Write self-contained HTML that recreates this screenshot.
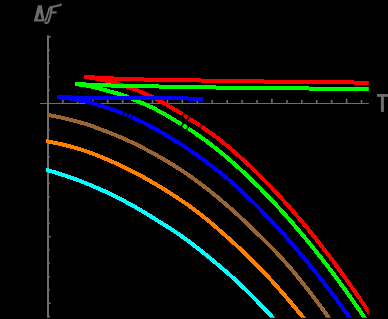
<!DOCTYPE html><html><head><meta charset="utf-8"><style>html,body{margin:0;padding:0;background:#000;}svg{display:block}</style></head><body><svg width="388" height="319" viewBox="0 0 388 319">
<defs><clipPath id="c"><rect x="0" y="0" width="368.8" height="317.8"/></clipPath></defs>
<rect width="388" height="319" fill="#000"/>
<g stroke="#6e6e6e" fill="none">
<line x1="48" y1="35.3" x2="48" y2="317.8" stroke-width="2"/>
<line x1="40" y1="103.5" x2="368.8" y2="103.5" stroke-width="1.2"/>
<line x1="62.9" y1="103.5" x2="62.9" y2="100.0" stroke-width="1.6"/>
<line x1="77.9" y1="103.5" x2="77.9" y2="100.0" stroke-width="1.6"/>
<line x1="92.8" y1="103.5" x2="92.8" y2="100.0" stroke-width="1.6"/>
<line x1="107.7" y1="103.5" x2="107.7" y2="100.0" stroke-width="1.6"/>
<line x1="122.7" y1="103.5" x2="122.7" y2="98.7" stroke-width="1.6"/>
<line x1="137.6" y1="103.5" x2="137.6" y2="100.0" stroke-width="1.6"/>
<line x1="152.5" y1="103.5" x2="152.5" y2="100.0" stroke-width="1.6"/>
<line x1="167.4" y1="103.5" x2="167.4" y2="100.0" stroke-width="1.6"/>
<line x1="182.4" y1="103.5" x2="182.4" y2="100.0" stroke-width="1.6"/>
<line x1="197.3" y1="103.5" x2="197.3" y2="98.7" stroke-width="1.6"/>
<line x1="212.2" y1="103.5" x2="212.2" y2="100.0" stroke-width="1.6"/>
<line x1="227.2" y1="103.5" x2="227.2" y2="100.0" stroke-width="1.6"/>
<line x1="242.1" y1="103.5" x2="242.1" y2="100.0" stroke-width="1.6"/>
<line x1="257.0" y1="103.5" x2="257.0" y2="100.0" stroke-width="1.6"/>
<line x1="271.9" y1="103.5" x2="271.9" y2="98.7" stroke-width="1.6"/>
<line x1="286.9" y1="103.5" x2="286.9" y2="100.0" stroke-width="1.6"/>
<line x1="301.8" y1="103.5" x2="301.8" y2="100.0" stroke-width="1.6"/>
<line x1="316.7" y1="103.5" x2="316.7" y2="100.0" stroke-width="1.6"/>
<line x1="331.7" y1="103.5" x2="331.7" y2="100.0" stroke-width="1.6"/>
<line x1="346.6" y1="103.5" x2="346.6" y2="98.7" stroke-width="1.6"/>
<line x1="361.5" y1="103.5" x2="361.5" y2="100.0" stroke-width="1.6"/>
<line x1="48" y1="316.6" x2="49.9" y2="316.6" stroke-width="1.5"/>
<line x1="48" y1="303.3" x2="50.8" y2="303.3" stroke-width="1.5"/>
<line x1="48" y1="290.0" x2="49.9" y2="290.0" stroke-width="1.5"/>
<line x1="48" y1="276.7" x2="49.9" y2="276.7" stroke-width="1.5"/>
<line x1="48" y1="263.3" x2="49.9" y2="263.3" stroke-width="1.5"/>
<line x1="48" y1="250.0" x2="49.9" y2="250.0" stroke-width="1.5"/>
<line x1="48" y1="236.7" x2="50.8" y2="236.7" stroke-width="1.5"/>
<line x1="48" y1="223.4" x2="49.9" y2="223.4" stroke-width="1.5"/>
<line x1="48" y1="210.1" x2="49.9" y2="210.1" stroke-width="1.5"/>
<line x1="48" y1="196.7" x2="49.9" y2="196.7" stroke-width="1.5"/>
<line x1="48" y1="183.4" x2="49.9" y2="183.4" stroke-width="1.5"/>
<line x1="48" y1="170.1" x2="50.8" y2="170.1" stroke-width="1.5"/>
<line x1="48" y1="156.8" x2="49.9" y2="156.8" stroke-width="1.5"/>
<line x1="48" y1="143.5" x2="49.9" y2="143.5" stroke-width="1.5"/>
<line x1="48" y1="130.1" x2="49.9" y2="130.1" stroke-width="1.5"/>
<line x1="48" y1="116.8" x2="49.9" y2="116.8" stroke-width="1.5"/>
<line x1="48" y1="90.2" x2="49.9" y2="90.2" stroke-width="1.5"/>
<line x1="48" y1="76.9" x2="49.9" y2="76.9" stroke-width="1.5"/>
<line x1="48" y1="63.5" x2="49.9" y2="63.5" stroke-width="1.5"/>
<line x1="48" y1="50.2" x2="49.9" y2="50.2" stroke-width="1.5"/>
<line x1="48" y1="36.9" x2="50.8" y2="36.9" stroke-width="1.5"/>
</g>
<g clip-path="url(#c)" fill="none" stroke-width="4.0" shape-rendering="crispEdges">
<path d="M84.0,76.9 L87.0,77.1 L90.0,77.2 L93.0,77.4 L96.0,77.6 L99.0,77.7 L102.0,77.9 L105.0,78.0 L108.0,78.2 L111.0,78.3 L114.0,78.5 L117.0,78.6 L120.0,78.8 L123.0,78.9 L126.0,79.0 L129.0,79.1 L132.0,79.2 L135.0,79.3 L138.0,79.4 L141.0,79.4 L144.0,79.5 L147.0,79.6 L150.0,79.6 L153.0,79.7 L156.0,79.7 L159.0,79.8 L162.0,79.8 L165.0,79.9 L168.0,79.9 L171.0,80.0 L174.0,80.0 L177.0,80.1 L180.0,80.1 L183.0,80.2 L186.0,80.2 L189.0,80.3 L192.0,80.3 L195.0,80.4 L198.0,80.4 L201.0,80.5 L204.0,80.5 L207.0,80.6 L210.0,80.6 L213.0,80.7 L216.0,80.7 L219.0,80.8 L222.0,80.8 L225.0,80.9 L228.0,80.9 L231.0,81.0 L234.0,81.0 L237.0,81.1 L240.0,81.1 L243.0,81.2 L246.0,81.2 L249.0,81.2 L252.0,81.3 L255.0,81.3 L258.0,81.4 L261.0,81.4 L264.0,81.5 L267.0,81.5 L270.0,81.5 L273.0,81.6 L276.0,81.6 L279.0,81.7 L282.0,81.7 L285.0,81.7 L288.0,81.8 L291.0,81.8 L294.0,81.8 L297.0,81.9 L300.0,81.9 L303.0,81.9 L306.0,82.0 L309.0,82.0 L312.0,82.0 L315.0,82.1 L318.0,82.1 L321.0,82.1 L324.0,82.2 L327.0,82.2 L330.0,82.2 L333.0,82.3 L336.0,82.3 L339.0,82.3 L342.0,82.4 L345.0,82.4 L348.0,82.4 L351.0,82.4 L354.0,82.5 L357.0,82.5 L360.0,82.5 L363.0,82.5 L366.0,82.6 L369.0,82.6" stroke="#ff0000"/>
<path d="M84.0,76.9 L85.5,77.1 L87.0,77.3 L88.5,77.4 L90.0,77.7 L91.5,77.9 L93.0,78.1 L94.5,78.4 L96.0,78.6 L97.5,78.9 L99.0,79.2 L100.5,79.5 L102.0,79.8 L103.5,80.1 L105.0,80.5 L106.5,80.8 L108.0,81.2 L109.5,81.6 L111.0,81.9 L112.5,82.3 L114.0,82.8 L115.5,83.2 L117.0,83.6 L118.5,84.0 L120.0,84.5 L121.5,85.0 L123.0,85.4 L124.5,85.9 L126.0,86.4 L127.5,86.9 L129.0,87.5 L130.5,88.0 L132.0,88.5 L133.5,89.1 L135.0,89.7 L136.5,90.2 L138.0,90.8 L139.5,91.4 L141.0,92.0 L142.5,92.7 L144.0,93.3 L145.5,94.0 L147.0,94.6 L148.5,95.3 L150.0,96.0 L151.5,96.7 L153.0,97.4 L154.5,98.2 L156.0,99.0 L157.5,99.8 L159.0,100.6 L160.5,101.4 L162.0,102.2 L163.5,103.0 L165.0,103.8 L166.5,104.7 L168.0,105.5 L169.5,106.4 L171.0,107.3 L172.5,108.2 L174.0,109.1 L175.5,110.0 L177.0,110.9 L178.5,111.8 L180.0,112.8 L181.5,113.7 L183.0,114.6 L184.5,115.6 L186.0,116.6 L187.5,117.5 L189.0,118.5 L190.5,119.5 L192.0,120.5 L193.5,121.4 L195.0,122.4 L196.5,123.4 L198.0,124.4 L199.5,125.4 L201.0,126.4 L202.5,127.4 L204.0,128.5 L205.5,129.5 L207.0,130.5 L208.5,131.6 L210.0,132.6 L211.5,133.7 L213.0,134.8 L214.5,135.9 L216.0,137.0 L217.5,138.1 L219.0,139.2 L220.5,140.4 L222.0,141.6 L223.5,142.8 L225.0,144.1 L226.5,145.3 L228.0,146.6 L229.5,147.8 L231.0,149.1 L232.5,150.4 L234.0,151.7 L235.5,153.0 L237.0,154.3 L238.5,155.6 L240.0,157.0 L241.5,158.3 L243.0,159.7 L244.5,161.0 L246.0,162.4 L247.5,163.8 L249.0,165.2 L250.5,166.6 L252.0,168.1 L253.5,169.5 L255.0,171.0 L256.5,172.4 L258.0,173.9 L259.5,175.4 L261.0,176.9 L262.5,178.4 L264.0,179.9 L265.5,181.4 L267.0,182.9 L268.5,184.5 L270.0,186.0 L271.5,187.6 L273.0,189.2 L274.5,190.8 L276.0,192.4 L277.5,194.0 L279.0,195.6 L280.5,197.2 L282.0,198.9 L283.5,200.5 L285.0,202.2 L286.5,203.9 L288.0,205.5 L289.5,207.2 L291.0,208.9 L292.5,210.7 L294.0,212.4 L295.5,214.1 L297.0,215.9 L298.5,217.6 L300.0,219.4 L301.5,221.2 L303.0,223.0 L304.5,224.8 L306.0,226.6 L307.5,228.4 L309.0,230.3 L310.5,232.1 L312.0,234.0 L313.5,235.8 L315.0,237.7 L316.5,239.6 L318.0,241.5 L319.5,243.4 L321.0,245.3 L322.5,247.3 L324.0,249.2 L325.5,251.2 L327.0,253.1 L328.5,255.1 L330.0,257.1 L331.5,259.1 L333.0,261.1 L334.5,263.1 L336.0,265.2 L337.5,267.2 L339.0,269.3 L340.5,271.3 L342.0,273.4 L343.5,275.5 L345.0,277.6 L346.5,279.7 L348.0,281.8 L349.5,283.9 L351.0,286.0 L352.5,288.2 L354.0,290.4 L355.5,292.5 L357.0,294.7 L358.5,296.9 L360.0,299.1 L361.5,301.3 L363.0,303.5 L364.5,305.8 L366.0,308.0 L367.5,310.3 L369.0,312.5 L370.5,314.8 L372.0,317.1 L373.5,319.4 L375.0,321.7 L376.5,324.0 L378.0,326.3 L379.5,328.7" stroke="#ff0000"/>
<path d="M74.9,83.9 L77.9,84.1 L80.9,84.3 L83.9,84.4 L86.9,84.6 L89.9,84.7 L92.9,84.9 L95.9,85.0 L98.9,85.1 L101.9,85.2 L104.9,85.3 L107.9,85.4 L110.9,85.5 L113.9,85.5 L116.9,85.6 L119.9,85.6 L122.9,85.7 L125.9,85.7 L128.9,85.8 L131.9,85.9 L134.9,85.9 L137.9,86.0 L140.9,86.1 L143.9,86.1 L146.9,86.2 L149.9,86.3 L152.9,86.3 L155.9,86.4 L158.9,86.5 L161.9,86.5 L164.9,86.6 L167.9,86.7 L170.9,86.8 L173.9,86.8 L176.9,86.9 L179.9,86.9 L182.9,87.0 L185.9,87.0 L188.9,87.1 L191.9,87.1 L194.9,87.2 L197.9,87.2 L200.9,87.3 L203.9,87.3 L206.9,87.3 L209.9,87.4 L212.9,87.4 L215.9,87.5 L218.9,87.5 L221.9,87.5 L224.9,87.6 L227.9,87.6 L230.9,87.7 L233.9,87.7 L236.9,87.7 L239.9,87.8 L242.9,87.8 L245.9,87.8 L248.9,87.9 L251.9,87.9 L254.9,87.9 L257.9,88.0 L260.9,88.0 L263.9,88.0 L266.9,88.1 L269.9,88.1 L272.9,88.1 L275.9,88.2 L278.9,88.2 L281.9,88.2 L284.9,88.2 L287.9,88.3 L290.9,88.3 L293.9,88.3 L296.9,88.4 L299.9,88.4 L302.9,88.4 L305.9,88.4 L308.9,88.5 L311.9,88.5 L314.9,88.5 L317.9,88.5 L320.9,88.6 L323.9,88.6 L326.9,88.6 L329.9,88.6 L332.9,88.7 L335.9,88.7 L338.9,88.7 L341.9,88.7 L344.9,88.7 L347.9,88.8 L350.9,88.8 L353.9,88.8 L356.9,88.8 L359.9,88.8 L362.9,88.9 L365.9,88.9 L368.9,88.9 L369.0,88.9" stroke="#00ff00"/>
<path d="M74.9,83.9 L76.4,84.1 L77.9,84.3 L79.4,84.5 L80.9,84.7 L82.4,84.9 L83.9,85.2 L85.4,85.4 L86.9,85.7 L88.4,86.0 L89.9,86.3 L91.4,86.6 L92.9,86.9 L94.4,87.3 L95.9,87.6 L97.4,88.0 L98.9,88.4 L100.4,88.8 L101.9,89.2 L103.4,89.6 L104.9,90.0 L106.4,90.5 L107.9,90.9 L109.4,91.3 L110.9,91.7 L112.4,92.1 L113.9,92.6 L115.4,93.0 L116.9,93.4 L118.4,93.9 L119.9,94.4 L121.4,94.8 L122.9,95.3 L124.4,95.8 L125.9,96.4 L127.4,96.9 L128.9,97.5 L130.4,98.1 L131.9,98.8 L133.4,99.4 L134.9,100.0 L136.4,100.7 L137.9,101.3 L139.4,101.9 L140.9,102.6 L142.4,103.2 L143.9,103.8 L145.4,104.5 L146.9,105.2 L148.4,105.8 L149.9,106.5 L151.4,107.2 L152.9,107.9 L154.4,108.6 L155.9,109.4 L157.4,110.2 L158.9,111.0 L160.4,111.8 L161.9,112.7 L163.4,113.5 L164.9,114.4 L166.4,115.2 L167.9,116.1 L169.4,117.0 L170.9,117.9 L172.4,118.8 L173.9,119.7 L175.4,120.6 L176.9,121.5 L178.4,122.4 L179.9,123.3 L181.4,124.2 L182.9,125.2 L184.4,126.1 L185.9,127.1 L187.4,128.0 L188.9,129.0 L190.4,130.0 L191.9,131.0 L193.4,132.0 L194.9,133.0 L196.4,134.0 L197.9,135.1 L199.4,136.1 L200.9,137.2 L202.4,138.3 L203.9,139.3 L205.4,140.4 L206.9,141.5 L208.4,142.7 L209.9,143.8 L211.4,144.9 L212.9,146.1 L214.4,147.3 L215.9,148.5 L217.4,149.7 L218.9,150.9 L220.4,152.1 L221.9,153.3 L223.4,154.6 L224.9,155.8 L226.4,157.1 L227.9,158.4 L229.4,159.7 L230.9,161.0 L232.4,162.3 L233.9,163.6 L235.4,164.9 L236.9,166.2 L238.4,167.6 L239.9,169.0 L241.4,170.3 L242.9,171.7 L244.4,173.1 L245.9,174.5 L247.4,175.9 L248.9,177.3 L250.4,178.7 L251.9,180.2 L253.4,181.6 L254.9,183.1 L256.4,184.6 L257.9,186.1 L259.4,187.5 L260.9,189.0 L262.4,190.6 L263.9,192.1 L265.4,193.6 L266.9,195.2 L268.4,196.7 L269.9,198.3 L271.4,199.9 L272.9,201.4 L274.4,203.0 L275.9,204.6 L277.4,206.3 L278.9,207.9 L280.4,209.5 L281.9,211.2 L283.4,212.8 L284.9,214.5 L286.4,216.2 L287.9,217.9 L289.4,219.6 L290.9,221.3 L292.4,223.0 L293.9,224.7 L295.4,226.5 L296.9,228.2 L298.4,230.0 L299.9,231.7 L301.4,233.5 L302.9,235.3 L304.4,237.1 L305.9,238.9 L307.4,240.7 L308.9,242.6 L310.4,244.4 L311.9,246.3 L313.4,248.1 L314.9,250.0 L316.4,251.9 L317.9,253.8 L319.4,255.7 L320.9,257.6 L322.4,259.5 L323.9,261.4 L325.4,263.4 L326.9,265.3 L328.4,267.3 L329.9,269.3 L331.4,271.3 L332.9,273.3 L334.4,275.3 L335.9,277.3 L337.4,279.3 L338.9,281.3 L340.4,283.4 L341.9,285.4 L343.4,287.5 L344.9,289.6 L346.4,291.7 L347.9,293.8 L349.4,295.9 L350.9,298.0 L352.4,300.1 L353.9,302.3 L355.4,304.4 L356.9,306.6 L358.4,308.7 L359.9,310.9 L361.4,313.1 L362.9,315.3 L364.4,317.5 L365.9,319.7 L367.4,322.0 L368.9,324.2 L370.4,326.4 L371.9,328.7 L373.4,331.0 L374.9,333.2" stroke="#00ff00"/>
<path d="M57.0,97.0 L60.0,97.1 L63.0,97.2 L66.0,97.3 L69.0,97.4 L72.0,97.5 L75.0,97.6 L78.0,97.8 L81.0,97.8 L84.0,97.8 L87.0,97.8 L90.0,97.9 L93.0,97.9 L96.0,97.9 L99.0,97.9 L102.0,97.9 L105.0,97.9 L108.0,97.9 L111.0,97.9 L114.0,97.9 L117.0,97.9 L120.0,97.9 L123.0,97.9 L126.0,97.9 L129.0,97.9 L132.0,98.0 L135.0,98.0 L138.0,98.0 L141.0,98.0 L144.0,98.0 L147.0,98.0 L150.0,98.0 L153.0,98.0 L156.0,98.0 L159.0,98.0 L162.0,98.0 L165.0,98.1 L168.0,98.1 L171.0,98.1 L174.0,98.1 L177.0,98.1 L180.0,98.2 L183.0,98.2 L186.0,98.4 L189.0,98.6 L192.0,98.6 L195.0,98.7 L198.0,98.8 L201.0,98.8 L203.0,98.8" stroke="#0000ff"/>
<path d="M57.0,97.1 L58.5,97.2 L60.0,97.4 L61.5,97.5 L63.0,97.7 L64.5,97.8 L66.0,98.0 L67.5,98.2 L69.0,98.4 L70.5,98.7 L72.0,98.9 L73.5,99.1 L75.0,99.4 L76.5,99.7 L78.0,100.0 L79.5,100.3 L81.0,100.6 L82.5,100.9 L84.0,101.2 L85.5,101.5 L87.0,101.9 L88.5,102.3 L90.0,102.6 L91.5,103.0 L93.0,103.4 L94.5,103.8 L96.0,104.2 L97.5,104.6 L99.0,105.1 L100.5,105.5 L102.0,106.0 L103.5,106.4 L105.0,106.9 L106.5,107.4 L108.0,107.9 L109.5,108.4 L111.0,108.9 L112.5,109.5 L114.0,110.0 L115.5,110.6 L117.0,111.1 L118.5,111.7 L120.0,112.3 L121.5,112.9 L123.0,113.5 L124.5,114.1 L126.0,114.7 L127.5,115.3 L129.0,116.0 L130.5,116.6 L132.0,117.3 L133.5,118.0 L135.0,118.7 L136.5,119.4 L138.0,120.1 L139.5,120.8 L141.0,121.5 L142.5,122.3 L144.0,123.0 L145.5,123.8 L147.0,124.5 L148.5,125.3 L150.0,126.1 L151.5,126.9 L153.0,127.7 L154.5,128.5 L156.0,129.4 L157.5,130.2 L159.0,131.0 L160.5,131.9 L162.0,132.7 L163.5,133.6 L165.0,134.5 L166.5,135.3 L168.0,136.2 L169.5,137.1 L171.0,138.0 L172.5,138.9 L174.0,139.9 L175.5,140.8 L177.0,141.7 L178.5,142.7 L180.0,143.7 L181.5,144.6 L183.0,145.6 L184.5,146.6 L186.0,147.6 L187.5,148.6 L189.0,149.7 L190.5,150.7 L192.0,151.7 L193.5,152.8 L195.0,153.9 L196.5,154.9 L198.0,156.0 L199.5,157.1 L201.0,158.1 L202.5,159.2 L204.0,160.3 L205.5,161.4 L207.0,162.6 L208.5,163.7 L210.0,164.8 L211.5,166.0 L213.0,167.1 L214.5,168.3 L216.0,169.4 L217.5,170.6 L219.0,171.8 L220.5,173.0 L222.0,174.2 L223.5,175.4 L225.0,176.7 L226.5,177.9 L228.0,179.1 L229.5,180.4 L231.0,181.7 L232.5,183.0 L234.0,184.3 L235.5,185.6 L237.0,187.0 L238.5,188.4 L240.0,189.8 L241.5,191.1 L243.0,192.6 L244.5,194.0 L246.0,195.4 L247.5,196.8 L249.0,198.3 L250.5,199.7 L252.0,201.2 L253.5,202.6 L255.0,204.1 L256.5,205.6 L258.0,207.1 L259.5,208.6 L261.0,210.2 L262.5,211.7 L264.0,213.2 L265.5,214.8 L267.0,216.3 L268.5,217.9 L270.0,219.5 L271.5,221.1 L273.0,222.7 L274.5,224.3 L276.0,225.9 L277.5,227.5 L279.0,229.2 L280.5,230.8 L282.0,232.5 L283.5,234.2 L285.0,235.8 L286.5,237.5 L288.0,239.2 L289.5,240.9 L291.0,242.7 L292.5,244.4 L294.0,246.1 L295.5,247.9 L297.0,249.6 L298.5,251.4 L300.0,253.2 L301.5,255.0 L303.0,256.8 L304.5,258.6 L306.0,260.4 L307.5,262.3 L309.0,264.1 L310.5,265.9 L312.0,267.8 L313.5,269.7 L315.0,271.6 L316.5,273.4 L318.0,275.3 L319.5,277.2 L321.0,279.2 L322.5,281.1 L324.0,283.0 L325.5,285.0 L327.0,286.9 L328.5,288.9 L330.0,290.8 L331.5,292.8 L333.0,294.8 L334.5,296.8 L336.0,298.8 L337.5,300.8 L339.0,302.9 L340.5,304.9 L342.0,306.9 L343.5,309.0 L345.0,311.1 L346.5,313.1 L348.0,315.2 L349.5,317.3 L351.0,319.4 L352.5,321.6 L354.0,323.7 L355.5,325.8 L357.0,328.0 L358.5,330.1 L360.0,332.3" stroke="#0000ff"/>
<path d="M47.2,114.7 L49.2,115.1 L51.2,115.5 L53.2,115.9 L55.2,116.3 L57.2,116.7 L59.2,117.1 L61.2,117.6 L63.2,118.0 L65.2,118.5 L67.2,119.0 L69.2,119.5 L71.2,120.0 L73.2,120.5 L75.2,121.0 L77.2,121.6 L79.2,122.1 L81.2,122.7 L83.2,123.3 L85.2,123.9 L87.2,124.5 L89.2,125.2 L91.2,125.8 L93.2,126.5 L95.2,127.3 L97.2,128.1 L99.2,128.9 L101.2,129.6 L103.2,130.3 L105.2,131.1 L107.2,131.8 L109.2,132.6 L111.2,133.4 L113.2,134.2 L115.2,135.0 L117.2,135.8 L119.2,136.7 L121.2,137.5 L123.2,138.4 L125.2,139.3 L127.2,140.2 L129.2,141.1 L131.2,142.1 L133.2,143.0 L135.2,144.0 L137.2,145.0 L139.2,146.0 L141.2,147.0 L143.2,148.0 L145.2,149.1 L147.2,150.1 L149.2,151.2 L151.2,152.2 L153.2,153.3 L155.2,154.4 L157.2,155.5 L159.2,156.7 L161.2,157.8 L163.2,159.0 L165.2,160.2 L167.2,161.3 L169.2,162.6 L171.2,163.8 L173.2,165.0 L175.2,166.3 L177.2,167.6 L179.2,168.9 L181.2,170.2 L183.2,171.5 L185.2,172.9 L187.2,174.2 L189.2,175.6 L191.2,177.0 L193.2,178.4 L195.2,179.9 L197.2,181.3 L199.2,182.8 L201.2,184.3 L203.2,185.8 L205.2,187.4 L207.2,189.0 L209.2,190.5 L211.2,192.1 L213.2,193.8 L215.2,195.4 L217.2,197.0 L219.2,198.7 L221.2,200.4 L223.2,202.1 L225.2,203.8 L227.2,205.6 L229.2,207.3 L231.2,209.0 L233.2,210.8 L235.2,212.6 L237.2,214.4 L239.2,216.2 L241.2,218.1 L243.2,220.0 L245.2,221.8 L247.2,223.7 L249.2,225.7 L251.2,227.6 L253.2,229.6 L255.2,231.6 L257.2,233.5 L259.2,235.4 L261.2,237.3 L263.2,239.3 L265.2,241.2 L267.2,243.2 L269.2,245.2 L271.2,247.2 L273.2,249.2 L275.2,251.3 L277.2,253.4 L279.2,255.6 L281.2,257.8 L283.2,260.0 L285.2,262.2 L287.2,264.5 L289.2,266.7 L291.2,269.0 L293.2,271.4 L295.2,273.8 L297.2,276.3 L299.2,278.7 L301.2,281.2 L303.2,283.7 L305.2,286.2 L307.2,288.8 L309.2,291.3 L311.2,293.9 L313.2,296.5 L315.2,299.2 L317.2,301.8 L319.2,304.5 L321.2,307.2 L323.2,310.0 L325.2,312.7 L327.2,315.5 L329.2,318.3 L331.2,321.2 L333.2,324.0 L335.2,326.9 L337.2,329.8 L339.2,332.7" stroke="#996633"/>
<path d="M46.0,141.2 L48.0,141.5 L50.0,141.9 L52.0,142.3 L54.0,142.7 L56.0,143.1 L58.0,143.5 L60.0,144.0 L62.0,144.4 L64.0,144.9 L66.0,145.4 L68.0,145.9 L70.0,146.4 L72.0,146.9 L74.0,147.5 L76.0,148.0 L78.0,148.6 L80.0,149.2 L82.0,149.8 L84.0,150.5 L86.0,151.2 L88.0,151.9 L90.0,152.6 L92.0,153.4 L94.0,154.1 L96.0,154.9 L98.0,155.7 L100.0,156.5 L102.0,157.3 L104.0,158.1 L106.0,159.0 L108.0,159.8 L110.0,160.7 L112.0,161.6 L114.0,162.5 L116.0,163.4 L118.0,164.3 L120.0,165.3 L122.0,166.2 L124.0,167.1 L126.0,168.1 L128.0,169.1 L130.0,170.1 L132.0,171.1 L134.0,172.1 L136.0,173.2 L138.0,174.2 L140.0,175.3 L142.0,176.4 L144.0,177.5 L146.0,178.6 L148.0,179.8 L150.0,180.9 L152.0,182.1 L154.0,183.3 L156.0,184.5 L158.0,185.6 L160.0,186.8 L162.0,188.0 L164.0,189.3 L166.0,190.5 L168.0,191.7 L170.0,193.0 L172.0,194.3 L174.0,195.6 L176.0,196.9 L178.0,198.2 L180.0,199.6 L182.0,201.0 L184.0,202.3 L186.0,203.7 L188.0,205.1 L190.0,206.6 L192.0,208.0 L194.0,209.5 L196.0,211.0 L198.0,212.5 L200.0,214.0 L202.0,215.6 L204.0,217.2 L206.0,218.8 L208.0,220.5 L210.0,222.1 L212.0,223.8 L214.0,225.5 L216.0,227.2 L218.0,229.0 L220.0,230.7 L222.0,232.5 L224.0,234.3 L226.0,236.0 L228.0,237.8 L230.0,239.6 L232.0,241.4 L234.0,243.2 L236.0,245.0 L238.0,246.9 L240.0,248.7 L242.0,250.6 L244.0,252.5 L246.0,254.4 L248.0,256.3 L250.0,258.3 L252.0,260.3 L254.0,262.2 L256.0,264.2 L258.0,266.3 L260.0,268.3 L262.0,270.3 L264.0,272.4 L266.0,274.6 L268.0,276.7 L270.0,278.9 L272.0,281.1 L274.0,283.3 L276.0,285.6 L278.0,287.8 L280.0,290.1 L282.0,292.3 L284.0,294.6 L286.0,297.0 L288.0,299.3 L290.0,301.6 L292.0,304.0 L294.0,306.4 L296.0,308.8 L298.0,311.2 L300.0,313.5 L302.0,316.0 L304.0,318.4 L306.0,320.8 L308.0,323.3 L310.0,325.8 L312.0,328.3 L314.0,330.8" stroke="#ff8000"/>
<path d="M46.0,169.9 L48.0,170.4 L50.0,170.9 L52.0,171.5 L54.0,172.1 L56.0,172.7 L58.0,173.3 L60.0,173.9 L62.0,174.6 L64.0,175.2 L66.0,175.9 L68.0,176.6 L70.0,177.3 L72.0,178.0 L74.0,178.7 L76.0,179.4 L78.0,180.2 L80.0,180.9 L82.0,181.7 L84.0,182.5 L86.0,183.3 L88.0,184.1 L90.0,184.9 L92.0,185.8 L94.0,186.6 L96.0,187.5 L98.0,188.3 L100.0,189.2 L102.0,190.1 L104.0,191.0 L106.0,191.9 L108.0,192.9 L110.0,193.8 L112.0,194.8 L114.0,195.8 L116.0,196.8 L118.0,197.8 L120.0,198.8 L122.0,199.9 L124.0,200.9 L126.0,202.0 L128.0,203.1 L130.0,204.1 L132.0,205.3 L134.0,206.4 L136.0,207.5 L138.0,208.7 L140.0,209.8 L142.0,211.0 L144.0,212.2 L146.0,213.4 L148.0,214.7 L150.0,215.9 L152.0,217.1 L154.0,218.4 L156.0,219.7 L158.0,221.0 L160.0,222.2 L162.0,223.4 L164.0,224.6 L166.0,225.9 L168.0,227.2 L170.0,228.4 L172.0,229.7 L174.0,231.0 L176.0,232.3 L178.0,233.7 L180.0,235.0 L182.0,236.5 L184.0,237.9 L186.0,239.4 L188.0,240.8 L190.0,242.3 L192.0,243.8 L194.0,245.4 L196.0,246.9 L198.0,248.4 L200.0,250.0 L202.0,251.6 L204.0,253.2 L206.0,254.8 L208.0,256.4 L210.0,258.1 L212.0,259.7 L214.0,261.4 L216.0,263.1 L218.0,264.8 L220.0,266.5 L222.0,268.2 L224.0,269.9 L226.0,271.6 L228.0,273.4 L230.0,275.1 L232.0,276.9 L234.0,278.7 L236.0,280.5 L238.0,282.4 L240.0,284.3 L242.0,286.2 L244.0,288.2 L246.0,290.1 L248.0,292.1 L250.0,294.1 L252.0,296.1 L254.0,298.1 L256.0,300.1 L258.0,302.2 L260.0,304.2 L262.0,306.3 L264.0,308.4 L266.0,310.5 L268.0,312.6 L270.0,314.7 L272.0,316.9 L274.0,319.1 L276.0,321.2 L278.0,323.4 L280.0,325.7 L282.0,327.9 L284.0,330.1" stroke="#00ffff"/>
</g>
<line x1="184.9" y1="112.1" x2="181.5" y2="117.5" stroke="#000" stroke-width="1.6"/>
<line x1="190.1" y1="115.4" x2="186.5" y2="120.7" stroke="#000" stroke-width="1.8"/>
<line x1="202.4" y1="123.5" x2="198.8" y2="128.8" stroke="#000" stroke-width="1.3"/>
<line x1="184.1" y1="122.1" x2="180.7" y2="127.6" stroke="#000" stroke-width="1.5"/>
<line x1="189.2" y1="125.4" x2="185.8" y2="130.8" stroke="#000" stroke-width="1.3"/>
<line x1="124.8" y1="110.8" x2="122.4" y2="116.7" stroke="#000" stroke-width="1.4"/>
<line x1="128.8" y1="112.4" x2="126.2" y2="118.3" stroke="#000" stroke-width="1.5"/>
<line x1="132.9" y1="114.2" x2="130.3" y2="120.1" stroke="#000" stroke-width="1.0"/>
<g fill="#6e6e6e">
<rect x="377" y="94.1" width="11" height="2.7"/><rect x="380.9" y="94.1" width="3" height="17.8"/>
</g>
<path fill="#6c6c6c" fill-rule="evenodd" d="M33.8,21.6 L38.0,5.2 L41.8,5.2 L44.8,21.6 Z M37.5,19.3 L39.9,12.2 L41.8,19.3 Z"/>
<g fill="none" stroke="#6c6c6c" stroke-width="2.1" stroke-linejoin="round" stroke-linecap="butt">
<path d="M49.0,10.2 C49.2,7.8 50.3,7.1 52,6.9 L60.6,4.9 L61.3,3.9"/>
<path d="M51.9,7.2 C51.3,12 50.3,17 48.7,21 C47.9,23.2 46.0,23.8 44.6,22.0"/>
<path d="M50.6,12.4 L56.6,12.4"/>
<path d="M49.4,8.8 L45.4,21" stroke-width="1.9"/>
</g>
</svg></body></html>
